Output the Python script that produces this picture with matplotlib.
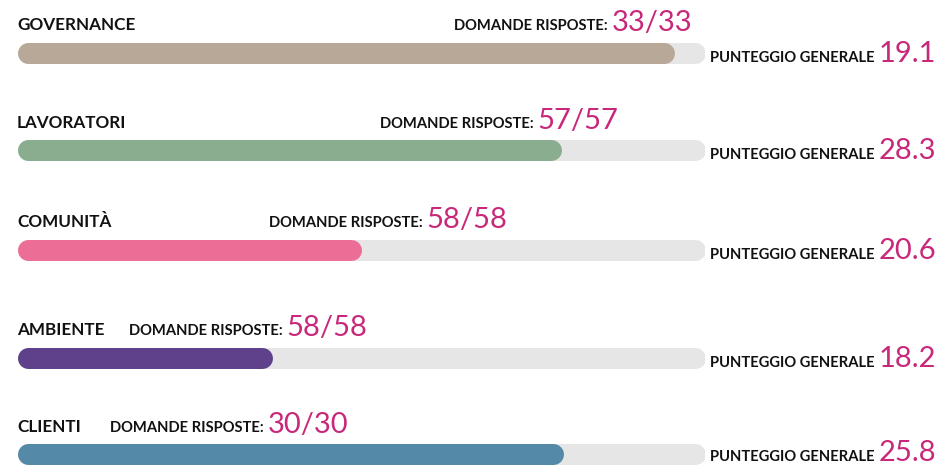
import matplotlib.pyplot as plt

# Data
categories = ['GOVERNANCE', 'LAVORATORI', 'COMUNITÀ', 'AMBIENTE', 'CLIENTI']
answered = ['33/33', '57/57', '58/58', '58/58', '30/30']
scores = ['19.1', '28.3', '20.6', '18.2', '25.8']
progress = [95.6, 79.2, 50.1, 37.2, 79.4]  # percent of the bar filled
colors = ['#B8A898', '#8AAD8F', '#EC6D96', '#5E418A', '#5589A8']

# Layout (pixels, figure is 940x467)
W, H = 940, 467
row_y = [53, 150, 250, 358, 454]          # bar centres
label_base = [30, 128, 227, 335, 432]     # baseline of the title row
domande_x = [454, 380, 269, 129, 110]     # start of "DOMANDE RISPOSTE:"
bar_left, bar_width, bar_h = 17, 688, 21

pink = '#C8287A'
track = '#E6E6E6'
plt.rcParams['font.family'] = ['Lato', 'DejaVu Sans']

fig = plt.figure(figsize=(W / 100, H / 100), dpi=100)

# bars: x in percent, y in pixels
ax = fig.add_axes([bar_left / W, 0, bar_width / W, 1])
ax.set_xlim(0, 100)
ax.set_ylim(H, 0)
ax.axis('off')
lw = bar_h * 72 / 100
cap = bar_h / 2 / bar_width * 100
for y, p, c in zip(row_y, progress, colors):
    ax.plot([cap, 100 - cap], [y, y], color=track, lw=lw, solid_capstyle='round')
    ax.plot([cap, p - cap], [y, y], color=c, lw=lw, solid_capstyle='round')

# texts: pixel coordinates
tx = fig.add_axes([0, 0, 1, 1])
tx.set_xlim(0, W)
tx.set_ylim(H, 0)
tx.axis('off')

inv = tx.transData.inverted()
fig.canvas.draw()
renderer = fig.canvas.get_renderer()


def right_edge(t):
    bb = t.get_window_extent(renderer)
    return inv.transform((bb.x1, bb.y0))[0]


def left_edge(t):
    bb = t.get_window_extent(renderer)
    return inv.transform((bb.x0, bb.y0))[0]


for i, cat in enumerate(categories):
    tx.text(bar_left, label_base[i], cat, fontsize=12.3, fontweight='bold',
            color='#111111', va='baseline', ha='left')
    d = tx.text(domande_x[i], label_base[i], 'DOMANDE RISPOSTE:', fontsize=10.6,
                fontweight='bold', color='#111111', va='baseline', ha='left')
    tx.text(right_edge(d) + 4, label_base[i] + 1, answered[i], fontsize=21,
            fontweight='normal', color=pink, va='baseline', ha='left')

    base = min(row_y[i] + 9, 461)
    n = tx.text(936, base, scores[i], fontsize=21, fontweight='normal',
                color=pink, va='baseline', ha='right')
    tx.text(left_edge(n) - 4, base, 'PUNTEGGIO GENERALE', fontsize=10.6,
            fontweight='bold', color='#111111', va='baseline', ha='right')

fig.savefig('out.png', dpi=100)
